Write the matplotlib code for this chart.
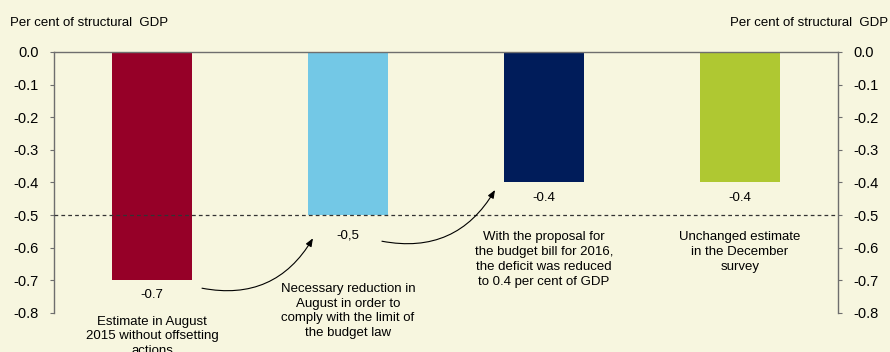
import matplotlib.pyplot as plt
import numpy as np

plt.rcParams['font.family'] = ['Liberation Sans', 'DejaVu Sans']
plt.rcParams['font.size'] = 9.5

values = [-0.7, -0.5, -0.4, -0.4]
value_labels = ["-0.7", "-0,5", "-0.4", "-0.4"]
colors = ["#960028", "#73C8E6", "#001C5A", "#AFC832"]
descriptions = [
    "Estimate in August\n2015 without offsetting\nactions",
    "Necessary reduction in\nAugust in order to\ncomply with the limit of\nthe budget law",
    "With the proposal for\nthe budget bill for 2016,\nthe deficit was reduced\nto 0.4 per cent of GDP",
    "Unchanged estimate\nin the December\nsurvey",
]
budget_limit = -0.5
yticks = np.round(np.arange(0.0, -0.81, -0.1), 1)

# layout tweaks for the text under each bar
label_pad = [-6, -10, -7, -7]
desc_y = [-0.808, -0.708, -0.55, -0.55]

bg = "#F7F6DF"
axis_col = "#6E6E6E"

fig = plt.figure(figsize=(8.9, 3.52), dpi=100, facecolor=bg)
ax = fig.add_axes([0.0607, 0.1108, 0.8809, 0.7415], facecolor=bg)

x = np.arange(len(values)) + 0.5
ax.bar(x, values, width=0.41, color=colors, zorder=2)

ax.set_xlim(0, 4)
ax.set_ylim(-0.8, 0)
ax.axhline(budget_limit, color="#333333", linestyle=(0, (3, 2.5)), linewidth=0.9, zorder=3)

for xi, v, lab, pad in zip(x, values, value_labels, label_pad):
    ax.annotate(lab, (xi, v), xytext=(0, pad), textcoords="offset points",
                ha="center", va="top")

for xi, d, yy in zip(x, descriptions, desc_y):
    ax.text(xi, yy, d, ha="center", va="top", linespacing=1.3, clip_on=False)

# curved arrows linking the steps
arrow_kw = dict(arrowstyle="-|>,head_length=0.5,head_width=0.2", color="black",
                linewidth=0.8, shrinkA=0, shrinkB=0)
ax.annotate("", xy=(1.321, -0.571), xytext=(0.755, -0.724),
            arrowprops=dict(connectionstyle="arc3,rad=0.35", **arrow_kw))
ax.annotate("", xy=(2.25, -0.423), xytext=(1.673, -0.58),
            arrowprops=dict(connectionstyle="arc3,rad=0.35", **arrow_kw))

ax.spines["bottom"].set_visible(False)
for s in ["left", "right", "top"]:
    ax.spines[s].set_color(axis_col)
    ax.spines[s].set_linewidth(1.0)

ax.set_xticks([])
ax.set_yticks(yticks)
ax.set_yticklabels([f"{t:.1f}" if t != 0 else "0.0" for t in yticks])
ax.tick_params(axis="y", which="both", left=True, right=True, labelleft=True,
               labelright=True, direction="out", length=3, color=axis_col,
               pad=8, labelsize=10.5)

fig.text(10 / 890, 1 - 23 / 352, "Per cent of structural  GDP", ha="left", va="center")
fig.text(888 / 890, 1 - 23 / 352, "Per cent of structural  GDP", ha="right", va="center")

fig.savefig("out.png", dpi=100, facecolor=bg)
